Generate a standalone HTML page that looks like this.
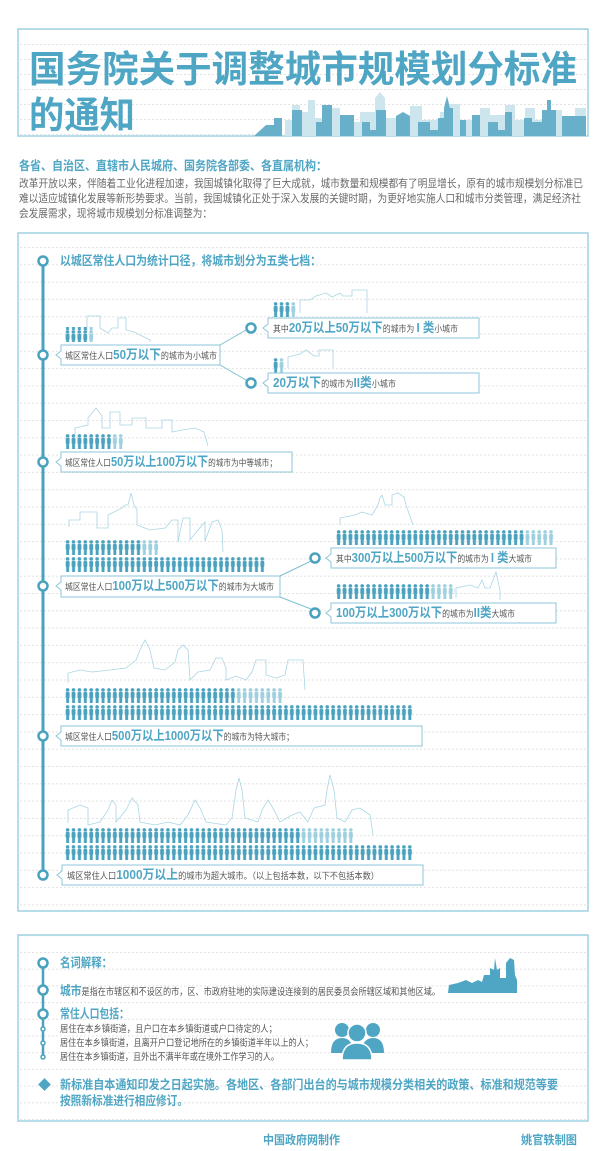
<!DOCTYPE html>
<html><head><meta charset="utf-8">
<style>
html,body{margin:0;padding:0;background:#fff;}
svg{display:block;font-family:"Liberation Sans","Noto Sans CJK SC",sans-serif;}
</style></head><body>
<svg width="600" height="1151" viewBox="0 0 600 1151" xmlns="http://www.w3.org/2000/svg">
<defs>
<pattern id="pd" width="5.9" height="15" patternUnits="userSpaceOnUse">
<circle cx="2.6" cy="1.9" r="1.8" fill="#4aa2bf"/>
<rect x="0.7" y="4" width="3.9" height="6" rx="1" fill="#4aa2bf"/>
<rect x="1.2" y="9.5" width="2.9" height="5.5" fill="#4aa2bf"/>
</pattern>
<pattern id="pl" width="5.9" height="15" patternUnits="userSpaceOnUse">
<circle cx="2.6" cy="1.9" r="1.8" fill="#9fd0df"/>
<rect x="0.7" y="4" width="3.9" height="6" rx="1" fill="#9fd0df"/>
<rect x="1.2" y="9.5" width="2.9" height="5.5" fill="#9fd0df"/>
</pattern>
<pattern id="dash1" width="600" height="15" patternUnits="userSpaceOnUse" y="29">
<line x1="0" y1="0.5" x2="600" y2="0.5" stroke="#e2e2e2" stroke-dasharray="2,2"/>
</pattern>
<pattern id="dash2" width="600" height="17.3" patternUnits="userSpaceOnUse" y="247">
<line x1="0" y1="0.5" x2="600" y2="0.5" stroke="#e2e2e2" stroke-dasharray="2,2"/>
</pattern>
<pattern id="dash3" width="600" height="16.7" patternUnits="userSpaceOnUse" y="952">
<line x1="0" y1="0.5" x2="600" y2="0.5" stroke="#e2e2e2" stroke-dasharray="2,2"/>
</pattern>
</defs>

<!-- Title box -->
<rect x="18" y="29" width="570" height="107" fill="url(#dash1)" stroke="#9fd2e2" stroke-width="1.5"/>
<polygon fill="#cde6ee" points="285,136 285,120 292,120 292,105 300,105 300,112 308,112 308,100 315,100 315,118 330,118 330,108 340,108 340,122 360,122 360,112 375,112 375,98 380,92 385,98 385,118 410,118 410,106 422,106 422,120 440,120 440,112 450,112 450,104 460,104 460,120 480,120 480,108 490,108 490,115 505,115 505,105 515,105 515,120 525,120 525,108 535,108 535,120 550,120 550,110 562,110 562,118 575,118 575,108 586,108 586,136"/>
<polygon fill="#68b0c9" points="254,136 266,125 274,125 274,118 282,118 282,136 292,136 292,110 302,110 302,136 316,136 316,122 322,122 322,105 332,105 332,136 340,136 340,115 354,115 354,136 362,136 362,122 370,122 370,130 376,130 376,110 386,110 386,136 396,136 396,116 403,112 410,116 410,136 418,136 418,122 430,122 430,130 438,130 438,118 444,118 444,108 447,96 450,108 453,108 453,136 460,136 460,120 466,120 466,136 472,136 472,115 480,115 480,136 488,136 488,122 498,122 498,130 505,130 505,112 512,112 512,136 524,136 524,118 532,118 532,122 542,122 542,110 547,110 547,100 551,100 551,110 556,110 556,136 562,136 562,116 586,116 586,136"/>
<text x="29" y="82" font-size="37" font-weight="bold" fill="#4fa6c4" textLength="548" lengthAdjust="spacingAndGlyphs">国务院关于调整城市规模划分标准</text>
<text x="29" y="128" font-size="37" font-weight="bold" fill="#4fa6c4" textLength="106" lengthAdjust="spacingAndGlyphs">的通知</text>

<!-- Intro -->
<text x="19" y="170" font-size="12.5" font-weight="bold" fill="#4fa6c4" textLength="308" lengthAdjust="spacingAndGlyphs">各省、自治区、直辖市人民城府、国务院各部委、各直属机构：</text>
<g font-size="10.8" fill="#6a6a6a">
<text x="19" y="187" textLength="564" lengthAdjust="spacingAndGlyphs">改革开放以来，伴随着工业化进程加速，我国城镇化取得了巨大成就，城市数量和规模都有了明显增长，原有的城市规模划分标准已</text>
<text x="19" y="202" textLength="562" lengthAdjust="spacingAndGlyphs">难以适应城镇化发展等新形势要求。当前，我国城镇化正处于深入发展的关键时期，为更好地实施人口和城市分类管理，满足经济社</text>
<text x="19" y="217" textLength="193" lengthAdjust="spacingAndGlyphs">会发展需求，现将城市规模划分标准调整为：</text>
</g>

<!-- Main box -->
<rect x="18" y="233" width="570" height="678" fill="url(#dash2)" stroke="#9fd2e2" stroke-width="1.5"/>
<line x1="43" y1="260" x2="43" y2="877" stroke="#4aa2bf" stroke-width="3"/>

<g fill="none" stroke="#a9d6e4" stroke-width="0.8">
<polyline points="87,332 87,316 100,316 100,328 108,333 112,328 118,328 118,318 126,318 126,330 134,332 142,336 150,340 150,342"/>
<polyline points="300,313 300,300 310,300 316,296 326,293 332,297 340,293 343,296 352,296 352,290 367,290 367,313"/>
<polyline points="288,368 288,357 300,354 306,350 314,356 319,356 319,350 333,350 333,368"/>
<polyline points="75,434 75,428 88,425 88,418 96,408 102,416 102,428 110,428 110,412 120,412 120,425 132,425 132,418 146,418 146,428 162,428 162,420 172,420 172,432 182,430 195,428 204,432 208,446"/>
<polyline points="69,527 69,520 80,520 80,512 97,512 97,528 108,528 108,515 122,508 125,505 128,505 131,493 134,505 137,510 137,525 150,530 165,528 172,520 178,520 178,542 183,518 190,518 190,540 198,530 205,522 205,541 212,522 218,520 222,530 223,552"/>
<polyline points="340,525 340,518 355,515 362,512 372,515 378,505 380,498 382,495 385,505 392,505 392,495 398,493 404,497 406,505 413,525"/>
<polyline points="456,598 456,588 470,585 478,588 482,580 485,588 490,588 496,572 500,590 500,600"/>
<polyline points="68,683 68,673 80,670 92,672 110,670 126,668 136,660 140,650 145,640 150,650 154,668 165,670 175,662 178,650 183,645 188,650 190,680 198,672 210,670 216,658 222,658 226,668 226,680 236,676 246,680 252,672 256,660 266,660 266,675 276,678 285,675 288,660 303,660 305,690"/>
<polyline points="68,823 68,810 80,805 88,808 88,825 100,822 108,810 112,800 116,805 116,822 126,810 132,798 138,805 140,822 155,825 168,822 180,825 188,815 195,800 200,808 206,822 226,825 232,818 236,790 239,778 242,790 245,818 258,822 262,810 268,800 274,810 280,822 292,815 300,812 308,822 314,808 325,805 327,790 330,775 334,790 337,818 345,822 352,810 360,808 370,815 373,835"/>
</g>

<!-- people rows -->
<rect x="65" y="327" width="24" height="15" fill="url(#pd)"/><rect x="89" y="327" width="5" height="15" fill="url(#pl)"/>
<g transform="translate(273,302)"><rect width="18" height="15" fill="url(#pd)"/><rect x="18" width="6" height="15" fill="url(#pl)"/></g>
<g transform="translate(273,358)"><rect width="6" height="15" fill="url(#pd)"/><rect x="6" width="6" height="15" fill="url(#pl)"/></g>
<g transform="translate(65,434)"><rect width="47" height="15" fill="url(#pd)"/><rect x="47" width="12" height="15" fill="url(#pl)"/></g>
<g transform="translate(65,540)"><rect width="76" height="15" fill="url(#pd)"/><rect x="76" width="18" height="15" fill="url(#pl)"/></g>
<g transform="translate(65,557)"><rect width="201" height="15" fill="url(#pd)"/></g>
<g transform="translate(336,530)"><rect width="189" height="15" fill="url(#pd)"/><rect x="189" width="30" height="15" fill="url(#pl)"/></g>
<g transform="translate(336,584)"><rect width="95" height="15" fill="url(#pd)"/><rect x="95" width="24" height="15" fill="url(#pl)"/></g>
<g transform="translate(65,688)"><rect width="171" height="15" fill="url(#pd)"/><rect x="171" width="47" height="15" fill="url(#pl)"/></g>
<g transform="translate(65,705)"><rect width="348" height="15" fill="url(#pd)"/></g>
<g transform="translate(65,828)"><rect width="236" height="15" fill="url(#pd)"/><rect x="236" width="53" height="15" fill="url(#pl)"/></g>
<g transform="translate(65,845)"><rect width="348" height="15" fill="url(#pd)"/></g>

<!-- connectors -->
<g stroke="#7fbfd3" stroke-width="1" fill="none">
<polyline points="220,345 246,330"/>
<polyline points="220,365 246,380"/>
<polyline points="280,576 311,561"/>
<polyline points="280,597 311,609"/>
</g>

<!-- callout boxes -->
<g fill="#fff" stroke="#8cc6d8" stroke-width="1">
<path d="M61,345 H220 V365 H61 V359 L56,355 L61,351 Z"/>
<path d="M268,318 H479 V338 H268 V332 L263,328 L268,324 Z"/>
<path d="M268,373 H479 V393 H268 V387 L263,383 L268,379 Z"/>
<path d="M61,452 H292 V472 H61 V466 L56,462 L61,458 Z"/>
<path d="M61,576 H280 V597 H61 V590 L56,586 L61,582 Z"/>
<path d="M331,548 H556 V568 H331 V562 L326,558 L331,554 Z"/>
<path d="M331,603 H556 V623 H331 V617 L326,613 L331,609 Z"/>
<path d="M61,726 H422 V746 H61 V740 L56,736 L61,732 Z"/>
<path d="M62,865 H423 V885 H62 V879 L57,875 L62,871 Z"/>
</g>

<!-- circles -->
<g fill="#fff" stroke="#4aa2bf" stroke-width="2.5">
<circle cx="43" cy="261" r="4.5"/><circle cx="43" cy="355" r="4.5"/><circle cx="251" cy="328" r="4.5"/><circle cx="251" cy="383" r="4.5"/>
<circle cx="43" cy="462" r="4.5"/><circle cx="43" cy="586" r="4.5"/><circle cx="315" cy="558" r="4.5"/><circle cx="315" cy="613" r="4.5"/>
<circle cx="43" cy="736" r="4.5"/><circle cx="43" cy="875" r="4.5"/>
</g>

<text x="60" y="265" font-size="12.5" font-weight="bold" fill="#4fa6c4" textLength="261" lengthAdjust="spacingAndGlyphs">以城区常住人口为统计口径，将城市划分为五类七档：</text>
<g font-size="9" fill="#555" lengthAdjust="spacingAndGlyphs">
<text x="65" y="359" textLength="152" lengthAdjust="spacingAndGlyphs">城区常住人口<tspan font-size="13" font-weight="bold" fill="#4fa6c4">50万以下</tspan>的城市为小城市</text>
<text x="273" y="332" textLength="185" lengthAdjust="spacingAndGlyphs">其中<tspan font-size="13" font-weight="bold" fill="#4fa6c4">20万以上50万以下</tspan>的城市为 <tspan font-size="13" font-weight="bold" fill="#4fa6c4">I 类</tspan>小城市</text>
<text x="273" y="387" textLength="123" lengthAdjust="spacingAndGlyphs"><tspan font-size="13" font-weight="bold" fill="#4fa6c4">20万以下</tspan>的城市为<tspan font-size="13" font-weight="bold" fill="#4fa6c4">II类</tspan>小城市</text>
<text x="65" y="466" textLength="212" lengthAdjust="spacingAndGlyphs">城区常住人口<tspan font-size="13" font-weight="bold" fill="#4fa6c4">50万以上100万以下</tspan>的城市为中等城市；</text>
<text x="65" y="590" textLength="209" lengthAdjust="spacingAndGlyphs">城区常住人口<tspan font-size="13" font-weight="bold" fill="#4fa6c4">100万以上500万以下</tspan>的城市为大城市</text>
<text x="336" y="562" textLength="196" lengthAdjust="spacingAndGlyphs">其中<tspan font-size="13" font-weight="bold" fill="#4fa6c4">300万以上500万以下</tspan>的城市为 <tspan font-size="13" font-weight="bold" fill="#4fa6c4">I 类</tspan>大城市</text>
<text x="336" y="617" textLength="179" lengthAdjust="spacingAndGlyphs"><tspan font-size="13" font-weight="bold" fill="#4fa6c4">100万以上300万以下</tspan>的城市为<tspan font-size="13" font-weight="bold" fill="#4fa6c4">II类</tspan>大城市</text>
<text x="65" y="740" textLength="229" lengthAdjust="spacingAndGlyphs">城区常住人口<tspan font-size="13" font-weight="bold" fill="#4fa6c4">500万以上1000万以下</tspan>的城市为特大城市；</text>
<text x="67" y="879" textLength="312" lengthAdjust="spacingAndGlyphs">城区常住人口<tspan font-size="13" font-weight="bold" fill="#4fa6c4">1000万以上</tspan>的城市为超大城市。（以上包括本数，以下不包括本数）</text>
</g>

<!-- Bottom box -->
<rect x="18" y="935" width="570" height="186" fill="url(#dash3)" stroke="#9fd2e2" stroke-width="1.5"/>
<line x1="43" y1="963" x2="43" y2="1058" stroke="#4aa2bf" stroke-width="2.5"/>
<g fill="#fff" stroke="#4aa2bf" stroke-width="2.5">
<circle cx="43" cy="963" r="4.5"/><circle cx="43" cy="990" r="4.5"/><circle cx="43" cy="1014" r="4.5"/>
</g>
<g fill="#fff" stroke="#4aa2bf" stroke-width="1.5">
<circle cx="43" cy="1029" r="2"/><circle cx="43" cy="1043" r="2"/><circle cx="43" cy="1057" r="2"/>
</g>
<text x="60" y="967" font-size="12.5" font-weight="bold" fill="#4fa6c4" textLength="52" lengthAdjust="spacingAndGlyphs">名词解释：</text>
<text x="60" y="995" font-size="9.5" fill="#555" textLength="380" lengthAdjust="spacingAndGlyphs"><tspan font-size="12.5" font-weight="bold" fill="#4fa6c4">城市</tspan>是指在市辖区和不设区的市，区、市政府驻地的实际建设连接到的居民委员会所辖区域和其他区域。</text>
<text x="60" y="1018" font-size="12.5" font-weight="bold" fill="#4fa6c4" textLength="69" lengthAdjust="spacingAndGlyphs">常住人口包括：</text>
<g font-size="9.5" fill="#555">
<text x="60" y="1032" textLength="217" lengthAdjust="spacingAndGlyphs">居住在本乡镇街道，且户口在本乡镇街道或户口待定的人；</text>
<text x="60" y="1046" textLength="253" lengthAdjust="spacingAndGlyphs">居住在本乡镇街道，且离开户口登记地所在的乡镇街道半年以上的人；</text>
<text x="60" y="1060" textLength="219" lengthAdjust="spacingAndGlyphs">居住在本乡镇街道，且外出不满半年或在境外工作学习的人。</text>
</g>
<polygon fill="#4fa6c4" points="448,993 449,985 458,983 466,980 472,983 478,980 482,982 484,975 490,975 490,968 494,970 495,958 497,970 500,968 500,978 506,978 506,963 510,958 514,960 515,975 517,980 517,993"/>
<g fill="#4fa6c4">
<circle cx="342" cy="1030" r="7"/><path d="M331,1053 Q331,1038 342,1038 Q353,1038 353,1053 Z"/>
<circle cx="373" cy="1030" r="7"/><path d="M362,1053 Q362,1038 373,1038 Q384,1038 384,1053 Z"/>
<circle cx="357" cy="1033" r="9" stroke="#fff" stroke-width="1.5"/><path d="M342,1060 Q342,1043 357,1043 Q372,1043 372,1060 Z" stroke="#fff" stroke-width="1.5"/>
</g>
<rect x="40" y="1080" width="9" height="9" fill="#4fa6c4" transform="rotate(45 44.5 1084.5)"/>
<g font-size="12.5" font-weight="bold" fill="#4fa6c4">
<text x="60" y="1089" textLength="498" lengthAdjust="spacingAndGlyphs">新标准自本通知印发之日起实施。各地区、各部门出台的与城市规模分类相关的政策、标准和规范等要</text>
<text x="60" y="1105" textLength="128" lengthAdjust="spacingAndGlyphs">按照新标准进行相应修订。</text>
</g>
<text x="263" y="1144" font-size="12" font-weight="bold" fill="#4fa6c4" textLength="77" lengthAdjust="spacingAndGlyphs">中国政府网制作</text>
<text x="521" y="1144" font-size="12" font-weight="bold" fill="#4fa6c4" textLength="56" lengthAdjust="spacingAndGlyphs">姚官轶制图</text>
</svg>
</body></html>
